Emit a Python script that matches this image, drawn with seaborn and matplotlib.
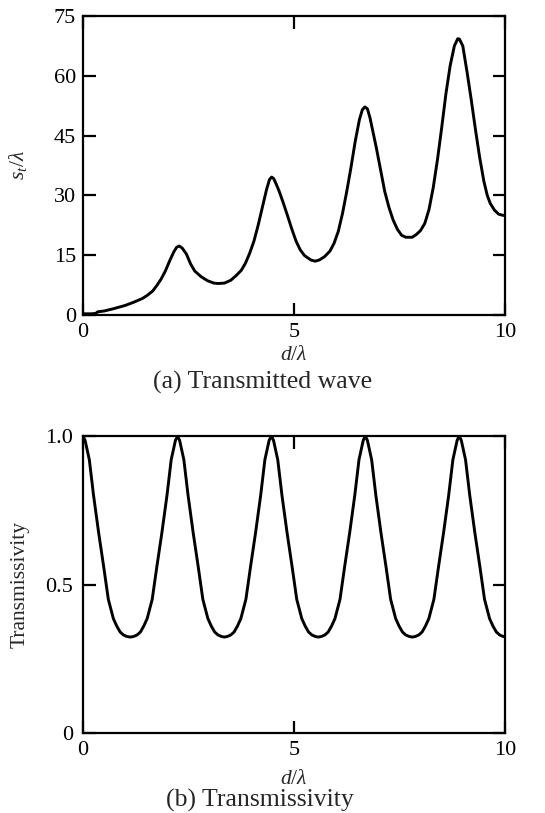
import numpy as np
import pandas as pd
import matplotlib
matplotlib.use("Agg")
import matplotlib.pyplot as plt
import seaborn as sns

# ---- data ----
# (a) transmitted wave s_t/lambda vs d/lambda
wave_x = [0.00, 0.10, 0.20, 0.30, 0.35, 0.50, 0.73, 1.00, 1.20, 1.40, 1.52, 1.65,
          1.75, 1.85, 1.95, 2.05, 2.15, 2.22, 2.28, 2.35, 2.45, 2.55, 2.65, 2.80,
          2.95, 3.10, 3.20, 3.35, 3.50, 3.62, 3.75, 3.85, 3.95, 4.05, 4.15, 4.25,
          4.35, 4.42, 4.47, 4.52, 4.58, 4.65, 4.75, 4.85, 4.95, 5.05, 5.15, 5.25,
          5.40, 5.50, 5.60, 5.72, 5.85, 5.95, 6.05, 6.15, 6.25, 6.35, 6.45, 6.55,
          6.62, 6.68, 6.74, 6.80, 6.87, 6.95, 7.05, 7.15, 7.25, 7.35, 7.45, 7.55,
          7.65, 7.80, 7.90, 8.00, 8.10, 8.20, 8.30, 8.40, 8.50, 8.60, 8.70, 8.80,
          8.88, 8.92, 9.00, 9.10, 9.20, 9.30, 9.40, 9.50, 9.58, 9.65, 9.75, 9.85,
          9.95, 10.0]
wave_y = [0.3, 0.3, 0.3, 0.4, 0.8, 1.0, 1.6, 2.4, 3.2, 4.1, 4.9, 6.0,
          7.4, 9.0, 11.0, 13.5, 15.8, 17.0, 17.3, 16.8, 15.3, 12.8, 11.0, 9.6,
          8.6, 8.0, 7.9, 8.0, 8.7, 9.8, 11.2, 13.0, 15.5, 18.5, 22.5, 27.0,
          31.5, 34.0, 34.6, 34.2, 32.8, 31.0, 28.0, 24.8, 21.5, 18.5, 16.3, 14.9,
          13.8, 13.5, 13.8, 14.6, 16.0, 18.0, 21.0, 25.5, 31.0, 37.0, 43.5, 49.0,
          51.5, 52.2, 51.7, 49.5, 46.0, 42.0, 36.5, 31.0, 27.0, 23.8, 21.5, 20.0,
          19.5, 19.5, 20.2, 21.2, 23.0, 26.5, 32.0, 39.0, 47.0, 55.5, 62.5, 67.5,
          69.3, 69.2, 67.5, 61.0, 54.0, 46.5, 39.5, 33.5, 30.0, 28.0, 26.3, 25.3,
          25.0, 25.0]

# (b) transmissivity vs d/lambda
trans_x = [0.00, 0.05, 0.15, 0.25, 0.37, 0.49, 0.60, 0.72, 0.80, 0.88, 0.96, 1.04,
           1.12, 1.20, 1.28, 1.36, 1.44, 1.52, 1.64, 1.75, 1.87, 1.99, 2.09, 2.19,
           2.24, 2.29, 2.39, 2.49, 2.61, 2.73, 2.84, 2.96, 3.04, 3.12, 3.20, 3.28,
           3.35, 3.42, 3.50, 3.58, 3.66, 3.74, 3.86, 3.97, 4.09, 4.21, 4.31, 4.41,
           4.465, 4.515, 4.615, 4.715, 4.835, 4.955, 5.065, 5.185, 5.265, 5.345, 5.425, 5.505,
           5.58, 5.65, 5.73, 5.81, 5.89, 5.97, 6.09, 6.20, 6.32, 6.44, 6.54, 6.64,
           6.69, 6.74, 6.84, 6.94, 7.06, 7.18, 7.29, 7.41, 7.49, 7.57, 7.65, 7.73,
           7.80, 7.875, 7.955, 8.035, 8.115, 8.195, 8.315, 8.425, 8.545, 8.665, 8.765, 8.865,
           8.915, 8.965, 9.065, 9.165, 9.285, 9.405, 9.515, 9.635, 9.715, 9.795, 9.875, 9.955,
           10.0]
trans_y = [1.000, 0.985, 0.920, 0.800, 0.675, 0.560, 0.450, 0.385, 0.360, 0.340, 0.330, 0.325,
           0.323, 0.325, 0.330, 0.340, 0.360, 0.385, 0.450, 0.560, 0.675, 0.800, 0.920, 0.985,
           1.000, 0.985, 0.920, 0.800, 0.675, 0.560, 0.450, 0.385, 0.360, 0.340, 0.330, 0.325,
           0.323, 0.325, 0.330, 0.340, 0.360, 0.385, 0.450, 0.560, 0.675, 0.800, 0.920, 0.985,
           1.000, 0.985, 0.920, 0.800, 0.675, 0.560, 0.450, 0.385, 0.360, 0.340, 0.330, 0.325,
           0.323, 0.325, 0.330, 0.340, 0.360, 0.385, 0.450, 0.560, 0.675, 0.800, 0.920, 0.985,
           1.000, 0.985, 0.920, 0.800, 0.675, 0.560, 0.450, 0.385, 0.360, 0.340, 0.330, 0.325,
           0.323, 0.325, 0.330, 0.340, 0.360, 0.385, 0.450, 0.560, 0.675, 0.800, 0.920, 0.985,
           1.000, 0.985, 0.920, 0.800, 0.675, 0.560, 0.450, 0.385, 0.360, 0.340, 0.330, 0.325,
           0.324]

x_ticks = [0, 5, 10]
x_tick_labels = ["0", "5", "10"]
wave_yticks = [0, 15, 30, 45, 60, 75]
wave_ytick_labels = ["0", "15", "30", "45", "60", "75"]
trans_yticks = [0, 0.5, 1.0]
trans_ytick_labels = ["0", "0.5", "1.0"]

# ---- style ----
sns.set_theme(style="ticks")
plt.rcParams["font.family"] = ["Liberation Serif", "DejaVu Serif"]
plt.rcParams["mathtext.fontset"] = "custom"
plt.rcParams["mathtext.rm"] = "Liberation Serif"
plt.rcParams["mathtext.it"] = "Liberation Serif:italic"

TICK_FS = 16
LABEL_FS = 15.5
CAP_FS = 18.5
fig = plt.figure(figsize=(5.45, 8.13), dpi=100)
W, H = 545.0, 813.0
ax1 = fig.add_axes([83 / W, (H - 315) / H, 422 / W, 299 / H])
ax2 = fig.add_axes([83 / W, (H - 733) / H, 422 / W, 297 / H])

df1 = pd.DataFrame({"x": wave_x, "y": wave_y})
df2 = pd.DataFrame({"x": trans_x, "y": trans_y})
sns.lineplot(data=df1, x="x", y="y", ax=ax1, color="black", linewidth=2.1,
             estimator=None, sort=False)
sns.lineplot(data=df2, x="x", y="y", ax=ax2, color="black", linewidth=2.1,
             estimator=None, sort=False)

for ax in (ax1, ax2):
    ax.set_xlim(0, 10)
    ax.set_xticks(x_ticks)
    ax.set_xticklabels(x_tick_labels)
    for sp in ax.spines.values():
        sp.set_visible(True)
        sp.set_linewidth(1.6)
        sp.set_color("black")
    ax.tick_params(direction="in", length=9, width=1.6, top=True, right=True,
                   labelsize=TICK_FS, colors="black")
    ax.tick_params(axis="x", pad=6)

ax1.set_ylim(0, 75)
ax1.set_yticks(wave_yticks)
ax1.set_yticklabels(wave_ytick_labels)
ax1.tick_params(axis="y", pad=5)
ax2.set_ylim(0, 1.0)
ax2.set_yticks(trans_yticks)
ax2.set_yticklabels(trans_ytick_labels)
ax2.tick_params(axis="y", pad=7)

ax1.set_xlabel(r"$d/\lambda$", fontsize=LABEL_FS)
ax1.set_ylabel(r"$s_t/\lambda$", fontsize=LABEL_FS)
ax2.set_xlabel(r"$d/\lambda$", fontsize=LABEL_FS)
ax2.set_ylabel("Transmissivity", fontsize=LABEL_FS)
ax1.xaxis.set_label_coords(0.5, -40 / 299, transform=ax1.transAxes)
ax2.xaxis.set_label_coords(0.5, -46 / 297, transform=ax2.transAxes)
ax1.xaxis.label.set_va("center")
ax2.xaxis.label.set_va("center")
ax1.yaxis.set_label_coords((18 - 83) / 422, 0.5, transform=ax1.transAxes)
ax2.yaxis.set_label_coords((20 - 83) / 422, 0.5, transform=ax2.transAxes)
ax1.yaxis.label.set_va("center")
ax2.yaxis.label.set_va("center")

fig.text(263 / W, 1 - 382 / H, "(a) Transmitted wave", ha="center",
         va="center", fontsize=CAP_FS)
fig.text(260 / W, 1 - 800 / H, "(b) Transmissivity", ha="center",
         va="center", fontsize=CAP_FS)

fig.savefig("out.png", dpi=100, facecolor="white")
